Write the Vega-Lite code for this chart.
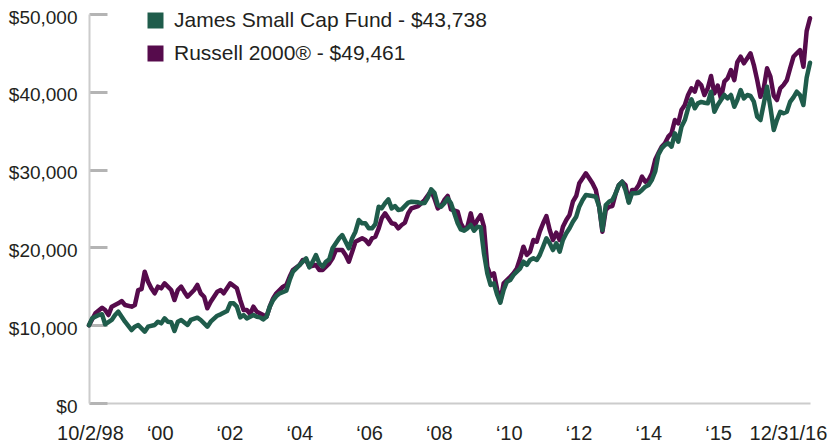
{
  "$schema": "https://vega.github.io/schema/vega-lite/v6.json",
  "width": 721,
  "height": 389,
  "autosize": {"type": "none"},
  "padding": {"left": 89, "top": 14, "right": 23, "bottom": 42},
  "background": "white",
  "config": {"view": {"stroke": null}, "font": "Liberation Sans"},
  "data": {"values": [
    {"date":"1998-10-02","james":10000,"russell":10000},
    {"date":"1998-10-31","james":10880},
    {"date":"1998-11-30","russell":11530},
    {"date":"1998-12-31","james":11310},
    {"date":"1999-01-31","james":11400,"russell":12250},
    {"date":"1999-02-28","james":10120,"russell":11950},
    {"date":"1999-03-31","russell":11310},
    {"date":"1999-04-30","james":10670,"russell":12380},
    {"date":"1999-05-31","james":11310},
    {"date":"1999-06-30","james":11740,"russell":12810},
    {"date":"1999-07-31","james":11090,"russell":13110},
    {"date":"1999-08-31","james":10450,"russell":12600},
    {"date":"1999-10-31","james":9380,"russell":12380},
    {"date":"1999-11-30","james":9810,"russell":12600},
    {"date":"1999-12-31","james":10030,"russell":14520},
    {"date":"2000-01-31","russell":14650},
    {"date":"2000-02-29","james":9170,"russell":16880},
    {"date":"2000-03-31","james":9810,"russell":15590},
    {"date":"2000-04-30","russell":14740},
    {"date":"2000-05-31","james":10030,"russell":14100},
    {"date":"2000-06-30","james":10450,"russell":14950},
    {"date":"2000-07-31","james":10240,"russell":14740},
    {"date":"2000-08-31","james":10880,"russell":15380},
    {"date":"2000-09-30","james":10450},
    {"date":"2000-10-31","james":10370,"russell":14520},
    {"date":"2000-11-30","james":9250,"russell":13240},
    {"date":"2000-12-31","james":10450,"russell":14520},
    {"date":"2001-01-31","james":10670,"russell":14950},
    {"date":"2001-02-28","russell":14310},
    {"date":"2001-03-31","james":10030,"russell":13660},
    {"date":"2001-04-30","james":10670},
    {"date":"2001-05-31","russell":14520},
    {"date":"2001-06-30","james":10970,"russell":15170},
    {"date":"2001-07-31","james":10670,"russell":14100},
    {"date":"2001-08-31","russell":13660},
    {"date":"2001-09-30","james":9810,"russell":12170},
    {"date":"2001-10-31","james":10450,"russell":13020},
    {"date":"2001-12-31","james":11220,"russell":14310},
    {"date":"2002-01-31","james":11400,"russell":14520},
    {"date":"2002-02-28","russell":14100},
    {"date":"2002-03-31","james":11820},
    {"date":"2002-04-30","james":12810,"russell":15380},
    {"date":"2002-05-31","james":12810},
    {"date":"2002-06-30","james":12380,"russell":14740},
    {"date":"2002-07-31","james":11000,"russell":13240},
    {"date":"2002-08-31","james":11310,"russell":11950},
    {"date":"2002-09-30","james":10880,"russell":11950},
    {"date":"2002-10-31","james":11090,"russell":11440},
    {"date":"2002-11-30","james":11310,"russell":12380},
    {"date":"2002-12-31","james":11090,"russell":11740},
    {"date":"2003-01-31","james":11010},
    {"date":"2003-02-28","james":10750,"russell":11310},
    {"date":"2003-03-31","james":11090,"russell":11090},
    {"date":"2003-04-30","james":12380,"russell":12380},
    {"date":"2003-05-31","james":13240,"russell":13450},
    {"date":"2003-06-30","james":13750,"russell":14100},
    {"date":"2003-07-31","james":14100},
    {"date":"2003-08-31","russell":14950},
    {"date":"2003-09-30","james":14430,"russell":15170},
    {"date":"2003-10-31","james":15810,"russell":16230},
    {"date":"2003-11-30","james":16880,"russell":17090},
    {"date":"2003-12-31","james":17310},
    {"date":"2004-01-31","russell":17740},
    {"date":"2004-02-29","james":18160,"russell":18380},
    {"date":"2004-03-31","james":18600,"russell":18380},
    {"date":"2004-04-30","james":17440,"russell":17520},
    {"date":"2004-05-31","james":18160},
    {"date":"2004-06-30","james":19020,"russell":17740},
    {"date":"2004-07-31","james":17950,"russell":17090},
    {"date":"2004-08-31","james":17520,"russell":17090},
    {"date":"2004-09-30","james":18160},
    {"date":"2004-10-31","james":18470,"russell":17950},
    {"date":"2004-11-30","james":19880,"russell":18600},
    {"date":"2004-12-31","russell":19660},
    {"date":"2005-01-31","james":21170},
    {"date":"2005-02-28","james":21590,"russell":19660},
    {"date":"2005-03-31","james":20730,"russell":19020},
    {"date":"2005-04-30","james":19880,"russell":18160},
    {"date":"2005-05-31","james":21170,"russell":19450},
    {"date":"2005-06-30","james":22020,"russell":20730},
    {"date":"2005-07-31","james":23520},
    {"date":"2005-08-31","james":23100,"russell":21170},
    {"date":"2005-09-30","james":23100,"russell":20950},
    {"date":"2005-10-31","james":22450,"russell":20430},
    {"date":"2005-11-30","james":22450,"russell":21170},
    {"date":"2005-12-31","james":23000,"russell":21370},
    {"date":"2006-01-31","james":25230,"russell":22450},
    {"date":"2006-02-28","james":25020,"russell":23740},
    {"date":"2006-03-31","james":25670,"russell":24380},
    {"date":"2006-04-30","james":26180},
    {"date":"2006-05-31","james":25020,"russell":23100},
    {"date":"2006-06-30","james":25320,"russell":23010},
    {"date":"2006-07-31","james":24810,"russell":22450},
    {"date":"2006-08-31","james":24890,"russell":22880},
    {"date":"2006-09-30","russell":23170},
    {"date":"2006-10-31","james":25750,"russell":24380},
    {"date":"2006-11-30","james":25870,"russell":25020},
    {"date":"2007-01-31","james":25800,"russell":25320},
    {"date":"2007-02-28","james":25670,"russell":25670},
    {"date":"2007-03-31","james":25700,"russell":26090},
    {"date":"2007-04-30","james":26400},
    {"date":"2007-05-31","james":27460,"russell":27290},
    {"date":"2007-06-30","james":27030,"russell":26310},
    {"date":"2007-07-31","james":25450,"russell":25020},
    {"date":"2007-08-31","james":25230,"russell":25320},
    {"date":"2007-09-30","james":25670,"russell":26090},
    {"date":"2007-10-31","james":26310,"russell":26610},
    {"date":"2007-11-30","james":25670,"russell":24890},
    {"date":"2007-12-31","james":24380},
    {"date":"2008-01-31","james":23100,"russell":24590},
    {"date":"2008-02-29","james":22320,"russell":23100},
    {"date":"2008-03-31","james":22150,"russell":22320},
    {"date":"2008-04-30","james":22450,"russell":22660},
    {"date":"2008-05-31","james":22880,"russell":24380},
    {"date":"2008-06-30","james":22150,"russell":22660},
    {"date":"2008-07-31","james":22660,"russell":23520},
    {"date":"2008-08-31","james":22580,"russell":24160},
    {"date":"2008-09-30","james":19240,"russell":22660},
    {"date":"2008-10-31","james":16670,"russell":17520},
    {"date":"2008-11-30","james":15170,"russell":16320},
    {"date":"2008-12-31","james":15380,"russell":16670},
    {"date":"2009-01-31","james":13880,"russell":14520},
    {"date":"2009-02-28","james":12890,"russell":13020},
    {"date":"2009-03-31","james":14520,"russell":15380},
    {"date":"2009-04-30","james":15590},
    {"date":"2009-05-31","james":15810,"russell":16230},
    {"date":"2009-06-30","james":16450,"russell":16670},
    {"date":"2009-07-31","james":16880,"russell":17300},
    {"date":"2009-08-31","james":17310,"russell":18600},
    {"date":"2009-09-30","james":18160,"russell":20090},
    {"date":"2009-10-31","james":17740,"russell":19020},
    {"date":"2009-11-30","james":18380,"russell":19450},
    {"date":"2009-12-31","james":18600,"russell":20950},
    {"date":"2010-01-31","james":18380,"russell":20730},
    {"date":"2010-02-28","james":19020,"russell":22020},
    {"date":"2010-03-31","james":20090,"russell":23100},
    {"date":"2010-04-30","james":21170,"russell":24030},
    {"date":"2010-05-31","james":20530,"russell":22240},
    {"date":"2010-06-30","james":19660,"russell":20950},
    {"date":"2010-07-31","james":20530,"russell":21890},
    {"date":"2010-08-31","james":19450,"russell":20950},
    {"date":"2010-09-30","james":20950,"russell":22660},
    {"date":"2010-10-31","james":21810,"russell":23520},
    {"date":"2010-11-30","james":22450,"russell":24160},
    {"date":"2010-12-31","james":23300,"russell":25870},
    {"date":"2011-01-31","james":23950,"russell":26610},
    {"date":"2011-02-28","james":25230,"russell":28240},
    {"date":"2011-03-31","james":26090,"russell":28880},
    {"date":"2011-04-30","james":26730,"russell":29520},
    {"date":"2011-05-31","russell":28880},
    {"date":"2011-06-30","james":26610,"russell":28240},
    {"date":"2011-07-31","james":26520,"russell":27380},
    {"date":"2011-08-31","james":25230,"russell":25230},
    {"date":"2011-09-30","james":22240,"russell":22020},
    {"date":"2011-10-31","james":25450,"russell":24810},
    {"date":"2011-11-30","james":25870,"russell":25230},
    {"date":"2011-12-31","james":26090,"russell":25320},
    {"date":"2012-01-31","james":26950,"russell":26950},
    {"date":"2012-02-29","james":28020,"russell":28020},
    {"date":"2012-03-31","james":28440,"russell":28440},
    {"date":"2012-04-30","james":27380,"russell":28020},
    {"date":"2012-05-31","james":25750,"russell":25870},
    {"date":"2012-06-30","james":26950,"russell":27380},
    {"date":"2012-07-31","james":26950,"russell":27380},
    {"date":"2012-08-31","james":27030,"russell":28020},
    {"date":"2012-09-30","james":27380,"russell":29090},
    {"date":"2012-10-31","james":27800,"russell":28440},
    {"date":"2012-11-30","james":28020,"russell":28660},
    {"date":"2012-12-31","james":28700,"russell":29520},
    {"date":"2013-01-31","james":29800,"russell":31300},
    {"date":"2013-02-28","james":31900,"russell":32090},
    {"date":"2013-03-31","james":32730,"russell":32940},
    {"date":"2013-04-30","james":33160,"russell":33380},
    {"date":"2013-05-31","james":33380,"russell":34230},
    {"date":"2013-06-30","james":32940,"russell":34660},
    {"date":"2013-07-31","james":34660,"russell":36370},
    {"date":"2013-08-31","james":33590,"russell":35950},
    {"date":"2013-09-30","james":35510,"russell":37660},
    {"date":"2013-10-31","james":36370,"russell":38300},
    {"date":"2013-11-30","james":37880,"russell":39590},
    {"date":"2013-12-31","james":39030,"russell":40450},
    {"date":"2014-01-31","james":37880,"russell":40010},
    {"date":"2014-02-28","james":38520,"russell":41300},
    {"date":"2014-03-31","james":38700,"russell":40870},
    {"date":"2014-04-30","james":38600,"russell":39590},
    {"date":"2014-05-31","james":38520,"russell":40450},
    {"date":"2014-06-30","james":40010,"russell":42030},
    {"date":"2014-07-31","james":37440,"russell":39800},
    {"date":"2014-08-31","james":38300,"russell":40800},
    {"date":"2014-09-30","james":38940,"russell":39160},
    {"date":"2014-10-31","james":39590,"russell":41300},
    {"date":"2014-11-30","james":39160,"russell":41730},
    {"date":"2014-12-31","james":39590,"russell":42800},
    {"date":"2015-01-31","james":38080,"russell":41500},
    {"date":"2015-02-28","james":38940,"russell":43800},
    {"date":"2015-03-31","james":40230,"russell":44510},
    {"date":"2015-04-30","james":39160,"russell":43660},
    {"date":"2015-05-31","james":39590,"russell":44300},
    {"date":"2015-06-30","james":39460,"russell":44950},
    {"date":"2015-07-31","james":38730,"russell":43440},
    {"date":"2015-08-31","james":36800,"russell":41500},
    {"date":"2015-09-30","james":36370,"russell":39370},
    {"date":"2015-10-31","james":38500,"russell":40500},
    {"date":"2015-11-30","james":40650,"russell":43020},
    {"date":"2015-12-31","james":38000,"russell":41940},
    {"date":"2016-01-31","james":35090,"russell":39500},
    {"date":"2016-02-29","james":36370,"russell":38940},
    {"date":"2016-03-31","james":37440,"russell":40450},
    {"date":"2016-04-30","james":37230,"russell":40870},
    {"date":"2016-05-31","james":37440,"russell":41500},
    {"date":"2016-06-30","james":38700,"russell":43000},
    {"date":"2016-07-31","james":39290,"russell":44500},
    {"date":"2016-08-31","james":40010,"russell":44950},
    {"date":"2016-09-30","james":39590,"russell":45370},
    {"date":"2016-10-31","james":38300,"russell":43230},
    {"date":"2016-11-30","james":41800,"russell":47800},
    {"date":"2016-12-31","james":43738,"russell":49461}
  ]},
  "transform": [
    {"fold": ["russell", "james"], "as": ["series", "value"]},
    {"filter": "isValid(datum.value)"}
  ],
  "encoding": {
    "x": {
      "field": "date",
      "type": "temporal",
      "scale": {"domain": [{"year": 1998, "month": 10, "date": 2, "utc": true}, {"year": 2016, "month": 12, "date": 31, "utc": true}]},
      "axis": {
        "title": null,
        "grid": false,
        "ticks": false,
        "domainColor": "#cccccc",
        "domainWidth": 2,
        "labelFontSize": 20,
        "labelColor": "#231f20",
        "labelPadding": 20,
        "labelFlush": false,
        "labelOverlap": false,
        "values": [
          {"year": 1998, "month": 10, "date": 11, "utc": true},
          {"year": 2000, "month": 7, "date": 17, "utc": true},
          {"year": 2002, "month": 4, "date": 22, "utc": true},
          {"year": 2004, "month": 1, "date": 28, "utc": true},
          {"year": 2005, "month": 11, "date": 3, "utc": true},
          {"year": 2007, "month": 8, "date": 10, "utc": true},
          {"year": 2009, "month": 5, "date": 17, "utc": true},
          {"year": 2011, "month": 2, "date": 21, "utc": true},
          {"year": 2012, "month": 11, "date": 27, "utc": true},
          {"year": 2014, "month": 9, "date": 3, "utc": true},
          {"year": 2016, "month": 6, "date": 10, "utc": true}
        ],
        "labelExpr": "utcyear(datum.value)==1998?'10/2/98':utcyear(datum.value)==2000?'‘00':utcyear(datum.value)==2002?'‘02':utcyear(datum.value)==2004?'‘04':utcyear(datum.value)==2005?'‘06':utcyear(datum.value)==2007?'‘08':utcyear(datum.value)==2009?'‘10':utcyear(datum.value)==2011?'‘12':utcyear(datum.value)==2012?'‘14':utcyear(datum.value)==2014?'‘15':'12/31/16'"
      }
    },
    "y": {
      "field": "value",
      "type": "quantitative",
      "scale": {"domain": [0, 50000], "nice": false},
      "axis": {
        "title": null,
        "grid": false,
        "values": [0, 10000, 20000, 30000, 40000, 50000],
        "format": "$,.0f",
        "ticks": true,
        "tickSize": -18,
        "tickColor": "#b4b4b4",
        "tickWidth": 3,
        "tickOpacity": 1,
        "domainColor": "#cccccc",
        "domainWidth": 2,
        "labelFontSize": 19,
        "labelColor": "#231f20",
        "labelPadding": 30,
        "labelOffset": 3
      }
    },
    "color": {
      "field": "series",
      "type": "nominal",
      "scale": {"domain": ["james", "russell"], "range": ["#1f5c4b", "#560b4c"]},
      "legend": {
        "orient": "none",
        "legendX": 56,
        "legendY": -4,
        "title": null,
        "symbolType": "square",
        "symbolSize": 256,
        "symbolStrokeWidth": 0,
        "labelFontSize": 21,
        "labelColor": "#231f20",
        "labelOffset": 8,
        "labelLimit": 0,
        "rowPadding": 11,
        "labelExpr": "datum.label=='james'?'James Small Cap Fund - $43,738':'Russell 2000® - $49,461'",
        "encode": {"symbols": {"update": {"fill": {"scale": "color", "field": "value"}, "stroke": {"value": "transparent"}, "opacity": {"value": 1}}}}
      }
    }
  },
  "layer": [
    {
      "transform": [{"filter": "datum.series == 'russell'"}],
      "mark": {"type": "line", "strokeWidth": 4.5, "strokeJoin": "round", "strokeCap": "round"}
    },
    {
      "transform": [{"filter": "datum.series == 'james'"}],
      "mark": {"type": "line", "strokeWidth": 4.5, "strokeJoin": "round", "strokeCap": "round"}
    }
  ]
}
